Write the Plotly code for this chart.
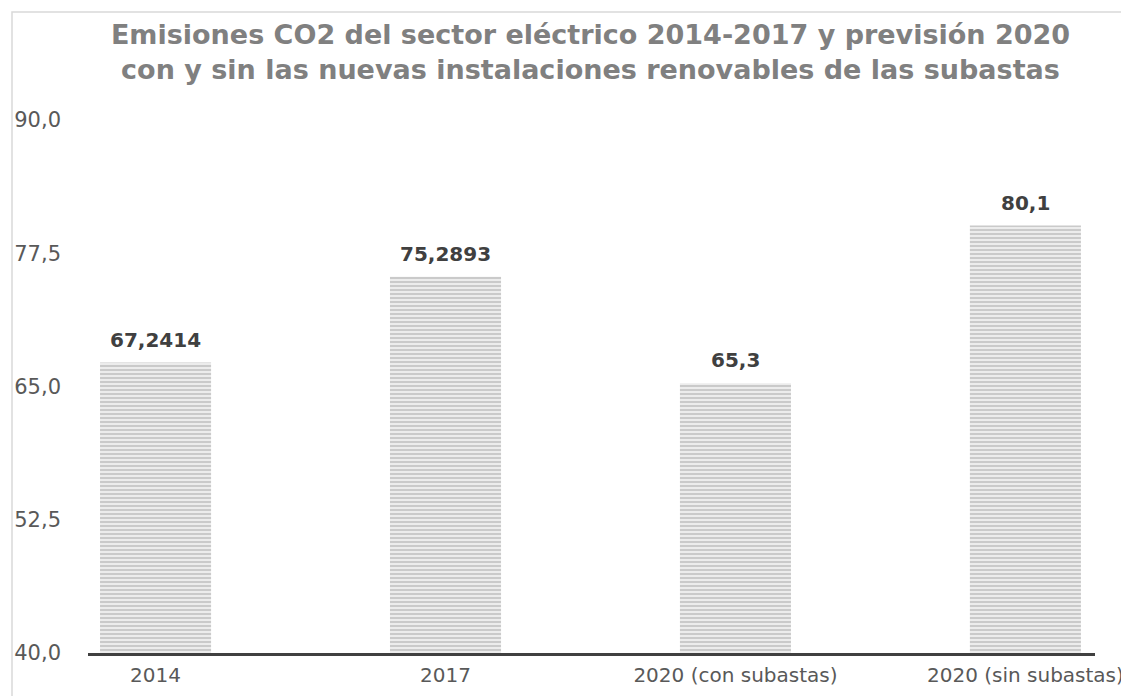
import plotly.graph_objects as go

categories = ["2014", "2017", "2020 (con subastas)", "2020 (sin subastas)"]
values = [67.2414, 75.2893, 65.3, 80.1]
value_labels = ["67,2414", "75,2893", "65,3", "80,1"]
y_ticks = [40.0, 52.5, 65.0, 77.5, 90.0]
y_tick_labels = ["40,0", "52,5", "65,0", "77,5", "90,0"]

title_text = ("Emisiones CO2 del sector eléctrico 2014-2017 y previsión 2020<br>"
              "con y sin las nuevas instalaciones renovables de las subastas")

xs = list(range(len(categories)))

fig = go.Figure()
fig.add_trace(go.Bar(
    x=xs,
    y=values,
    width=0.383,
    marker=dict(
        color="#ececec",
        line=dict(width=0),
        pattern=dict(shape="-", fgcolor="#a0a0a0", bgcolor="#ececec", size=4, solidity=0.45),
    ),
    hoverinfo="skip",
))

for xi, v, lab in zip(xs, values, value_labels):
    fig.add_annotation(
        x=xi, y=v, text=lab, showarrow=False,
        xanchor="center", yanchor="bottom", yshift=9,
        font=dict(family="DejaVu Sans", size=20, color="#404040", weight="bold"),
    )

W, H = 1121, 688  # page body adds 8px offset

fig.update_layout(
    width=W, height=H,
    paper_bgcolor="white", plot_bgcolor="white",
    margin=dict(l=80, r=34, t=112, b=43, autoexpand=False),
    showlegend=False,
    title=dict(
        text=title_text,
        x=(590.5 - 8) / W, xanchor="center", y=1 - (44 - 8) / H, yanchor="middle",
        font=dict(family="DejaVu Sans", size=27, color="#808080", weight="bold"),
    ),
    xaxis=dict(
        range=[-0.233, 3.24],
        tickvals=xs,
        ticktext=categories,
        automargin=False,
        showgrid=False, zeroline=False,
        showline=True, linecolor="#404040", linewidth=3,
        ticks="", tickfont=dict(family="DejaVu Sans", size=20, color="#595959"),
        ticklabelstandoff=2,
    ),
    yaxis=dict(
        range=[40, 90],
        tickvals=y_ticks,
        ticktext=y_tick_labels,
        automargin=False,
        showgrid=False, zeroline=False, showline=False,
        ticks="", tickfont=dict(family="DejaVu Sans", size=21, color="#595959"),
        ticklabelstandoff=26,
    ),
    shapes=[dict(
        type="rect", xref="paper", yref="paper",
        x0=(12 - 88) / 1007, x1=(1126 - 88) / 1007, y0=-0.2, y1=(653 - 12) / 533,
        line=dict(color="#d9d9d9", width=1.5), fillcolor="rgba(0,0,0,0)", layer="below",
    )],
)

fig.write_html("out.html")
